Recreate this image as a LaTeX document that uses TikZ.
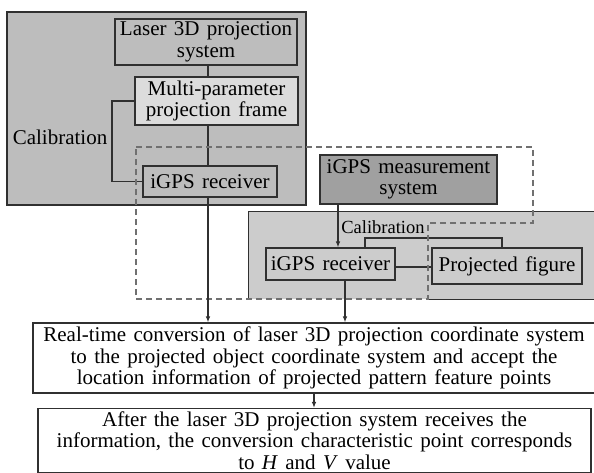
\documentclass[tikz,border=0pt]{standalone}
\usepackage{fontspec}
\setmainfont[WordSpace=1.4]{Liberation Serif}
\usetikzlibrary{arrows.meta}
\definecolor{panelL}{HTML}{BDBDBD}
\definecolor{panelR}{HTML}{CCCCCC}
\definecolor{lightbox}{HTML}{DCDCDC}
\definecolor{darkbox}{HTML}{A0A0A0}
\definecolor{edge}{HTML}{303030}
\definecolor{dashcol}{HTML}{707070}
\tikzset{
  bigfont/.style={font=\fontsize{21}{21.5}\selectfont},
  box/.style={draw=edge, line width=1.1pt, rectangle, inner sep=0pt, align=center, bigfont},
  panel/.style={rectangle, inner sep=0pt},
  conn/.style={draw=edge, line width=1.1pt},
  arr/.style={conn, -{Latex[length=6pt,width=4.5pt]}},
  grp/.style={draw=dashcol, line width=1.1pt, dash pattern=on 6pt off 4pt},
}
\begin{document}
\begin{tikzpicture}[x=1pt,y=-1pt]
\useasboundingbox (0,0) rectangle (594,473);
% panels
\node[panel, fill=panelL, draw=edge, line width=1.1pt, minimum width=299pt, minimum height=193pt] (pL) at (156.5,108.5) {};
\node[panel, fill=panelR, minimum width=346pt, minimum height=87pt] (pR) at (422,255.5) {};
\coordinate (dx) at (428,0);
\draw[conn] (pR.south -| dx) -- (pR.south east) -- (pR.north east) -- (pR.north west) -- (pR.south west);
% left group
\node[box, fill=panelL, minimum width=182pt, minimum height=46pt] (laser) at (206,42) {Laser 3D projection\\system};
\node[box, fill=lightbox, minimum width=163pt, minimum height=48pt] (multi) at (216.5,101) {Multi-parameter\\projection frame};
\node[box, fill=panelL, minimum width=134pt, minimum height=31pt] (recL) at (210,181.5) {iGPS receiver};
\node[bigfont, inner sep=0pt] (calL) at (60,137) {Calibration};
\coordinate (vx) at (208,0);
\draw[conn] (laser.south -| vx) -- (multi.north -| vx);
\draw[conn] (multi.south -| vx) -- (recL.north -| vx);
\coordinate (bkL) at (112,0);
\draw[conn] (multi.west) -- (multi.west -| bkL) |- (recL.west);
% right group
\node[box, fill=darkbox, minimum width=177pt, minimum height=49pt] (meas) at (408.5,179.5) {iGPS measurement\\system};
\node[box, fill=panelR, minimum width=129pt, minimum height=32pt] (recR) at (330.5,264) {iGPS receiver};
\node[box, fill=panelR, minimum width=150pt, minimum height=36pt] (proj) at (507,266) {Projected figure};
\node[font=\fontsize{18.5}{19}\selectfont, inner sep=0pt] (calR) at (383,227) {Calibration};
\coordinate (mx) at (338,0);
\draw[arr] (meas.south -| mx) -- (recR.north -| mx);
\draw[conn] (recR.east |- 0,267) -- (proj.west |- 0,267);
\coordinate (b1) at (365,238);
\coordinate (b2) at (502,238);
\draw[conn] (recR.north -| b1) -- (b1) -- (b2) -- (proj.north -| b2);
% dashed group outline
\draw[grp] (136,147) -- (533,147) -- (533,223) -- (428,223) -- (428,299) -- (136,299) -- cycle;
% bottom boxes
\node[box, fill=white, minimum width=562pt, minimum height=70pt] (conv) at (314,358) {Real-time conversion of laser 3D projection coordinate system\\to the projected object coordinate system and accept the\\location information of projected pattern feature points};
\node[box, fill=white, minimum width=553pt, minimum height=64pt] (after) at (314.5,440.5) {After the laser 3D projection system receives the\\information, the conversion characteristic point corresponds\\to \textit{H} and \textit{V} value};
\coordinate (rx) at (345,0);
\draw[arr] (recL.south -| vx) -- (conv.north -| vx);
\draw[arr] (recR.south -| rx) -- (conv.north -| rx);
\coordinate (cx) at (314,0);
\draw[arr] (conv.south -| cx) -- (after.north -| cx);
\end{tikzpicture}
\end{document}
